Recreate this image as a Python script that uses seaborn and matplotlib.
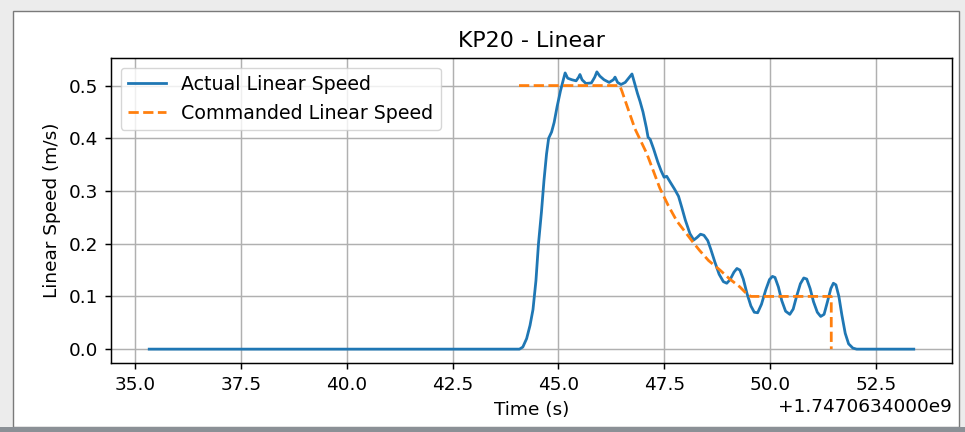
import numpy as np
import pandas as pd
import matplotlib
matplotlib.use("Agg")
import matplotlib.pyplot as plt
from matplotlib.patches import Rectangle
from matplotlib.ticker import ScalarFormatter
import seaborn as sns

# Epoch offset of the run (seconds)
T0 = 1747063400.0

# Measured linear speed: time since T0 (s), speed (m/s)
actual_t = [35.33, 44.08, 44.16, 44.25, 44.33, 44.40, 44.47, 44.53, 44.60, 44.66,
            44.72, 44.77, 44.84, 44.90, 44.97, 45.05, 45.12, 45.16, 45.22, 45.32,
            45.42, 45.48, 45.51, 45.56, 45.65, 45.78, 45.86, 45.91, 45.98, 46.08,
            46.20, 46.30, 46.34, 46.40, 46.48, 46.58, 46.68, 46.74, 46.80, 46.87,
            46.93, 47.00, 47.08, 47.12, 47.17, 47.25, 47.35, 47.43, 47.50, 47.56,
            47.65, 47.75, 47.84, 47.92, 48.00, 48.11, 48.20, 48.28, 48.36, 48.44,
            48.53, 48.60, 48.70, 48.80, 48.90, 48.98, 49.06, 49.15, 49.22, 49.29,
            49.37, 49.46, 49.55, 49.63, 49.71, 49.80, 49.90, 49.99, 50.06, 50.12,
            50.20, 50.28, 50.37, 50.47, 50.55, 50.63, 50.72, 50.80, 50.87, 50.95,
            51.03, 51.12, 51.20, 51.28, 51.36, 51.44, 51.50, 51.56, 51.63, 51.70,
            51.78, 51.86, 51.96, 52.05, 53.40]
actual_v = [0.000, 0.000, 0.004, 0.020, 0.045, 0.075, 0.130, 0.200, 0.260, 0.320,
            0.370, 0.400, 0.412, 0.430, 0.460, 0.490, 0.512, 0.524, 0.514, 0.511,
            0.509, 0.516, 0.521, 0.511, 0.504, 0.505, 0.516, 0.526, 0.518, 0.511,
            0.506, 0.511, 0.516, 0.506, 0.502, 0.506, 0.516, 0.522, 0.505, 0.485,
            0.470, 0.450, 0.420, 0.402, 0.398, 0.380, 0.355, 0.338, 0.326, 0.328,
            0.316, 0.303, 0.290, 0.268, 0.245, 0.219, 0.207, 0.212, 0.218, 0.216,
            0.206, 0.190, 0.165, 0.142, 0.128, 0.125, 0.132, 0.146, 0.153, 0.150,
            0.133, 0.105, 0.082, 0.070, 0.069, 0.085, 0.112, 0.132, 0.138, 0.136,
            0.118, 0.092, 0.072, 0.066, 0.076, 0.100, 0.124, 0.135, 0.133, 0.115,
            0.090, 0.070, 0.062, 0.066, 0.090, 0.115, 0.125, 0.122, 0.100, 0.065,
            0.030, 0.010, 0.002, 0.000, 0.000]

# Commanded linear speed
cmd_t = [44.07, 46.45, 46.50, 46.65, 46.81, 47.09, 47.40, 47.60, 47.80, 48.00,
         48.18, 48.34, 48.55, 48.82, 49.05, 49.29, 49.45, 49.55, 51.45, 51.45]
cmd_v = [0.500, 0.500, 0.490, 0.455, 0.418, 0.371, 0.305, 0.272, 0.243, 0.222,
         0.203, 0.187, 0.168, 0.150, 0.133, 0.118, 0.105, 0.100, 0.100, 0.000]

actual = pd.DataFrame({"time": T0 + np.array(actual_t), "speed": actual_v})
command = pd.DataFrame({"time": T0 + np.array(cmd_t), "speed": cmd_v})


class EpochOffsetFormatter(ScalarFormatter):
    """Scalar formatter that writes the offset with a fixed 10-digit mantissa."""

    def get_offset(self):
        if not self.offset:
            return super().get_offset()
        exp = int(np.floor(np.log10(abs(self.offset))))
        mant = self.offset / 10 ** exp
        return f"+{mant:.10f}e{exp}"


S = 1.33  # overall scale of text and strokes
plt.rcParams.update({
    "font.family": ["DejaVu Sans"],
    "font.size": 10 * S,
    "axes.linewidth": 0.8 * S,
    "xtick.major.size": 3.5 * S,
    "ytick.major.size": 3.5 * S,
    "xtick.major.width": 0.8 * S,
    "ytick.major.width": 0.8 * S,
    "xtick.major.pad": 3.5 * S,
    "ytick.major.pad": 3.5 * S,
    "axes.labelpad": 4.0 * S,
    "axes.titlepad": 6.0 * S,
    "lines.dashed_pattern": (3.7, 1.6),
})

fig = plt.figure(figsize=(9.65, 4.32), dpi=100, facecolor="#ececec")

# window panel behind the plot
fig.patches.append(Rectangle((13 / 965, 5 / 432), 946 / 965, 416 / 432,
                             transform=fig.transFigure, facecolor="white",
                             edgecolor="#7a7a7a", linewidth=1.0, zorder=-10))
fig.patches.append(Rectangle((0, 0), 1, 5 / 432, transform=fig.transFigure,
                             facecolor="#8b9096", edgecolor="none", zorder=-10))

ax = fig.add_axes([111 / 965, 1 - 363 / 432, 841 / 965, 305 / 432])
ax.set_facecolor("white")
ax.set_zorder(5)

sns.lineplot(data=actual, x="time", y="speed", ax=ax, color="C0",
             label="Actual Linear Speed", estimator=None, sort=False,
             linewidth=1.5 * S)
sns.lineplot(data=command, x="time", y="speed", ax=ax, color="C1",
             linestyle="--", label="Commanded Linear Speed", estimator=None,
             sort=False, linewidth=1.5 * S)

ax.xaxis.set_major_formatter(EpochOffsetFormatter())
ax.set_title("KP20 - Linear", fontsize=12 * S)
ax.set_xlabel("Time (s)", fontsize=10 * S)
ax.set_ylabel("Linear Speed (m/s)", fontsize=10 * S)
ax.grid(True, color="#b0b0b0", linewidth=0.8 * S)
ax.set_axisbelow(True)
ax.tick_params(labelsize=10 * S)
ax.legend(loc="upper left", fontsize=10.3 * S)

fig.savefig("out.png", dpi=100, facecolor=fig.get_facecolor())
